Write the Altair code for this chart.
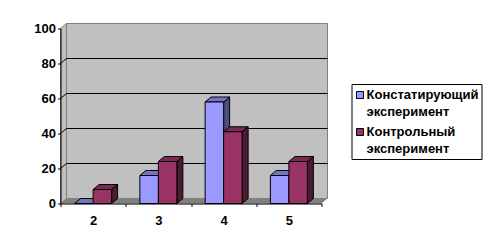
import altair as alt
import pandas as pd

# ---- data ----
categories = [2, 3, 4, 5]
series_names = ["Констатирующий эксперимент", "Контрольный эксперимент"]
konst = [0, 16, 58, 16]
kontr = [8, 24, 41, 24]
y_ticks = [0, 20, 40, 60, 80, 100]
grid_values = [20, 40, 60, 80]

# ---- geometry (in data units) ----
W, H = 261, 175
X0, X1 = 1.5, 5.5
YMAX = 100
DX = 6 / (W / (X1 - X0))      # 3-D depth, horizontal
DY = 5 / (H / YMAX)           # 3-D depth, vertical
HALF = 0.2835                 # bar width

front_colors = ["#9999FF", "#993366"]
top_colors = ["#7474C4", "#7A2952"]
side_colors = ["#4D4D80", "#4D1A33"]

fronts, tops, sides = [], [], []
for si, (name, vals) in enumerate(zip(series_names, [konst, kontr])):
    for c, v in zip(categories, vals):
        a = c - HALF if si == 0 else c
        b = c if si == 0 else c + HALF
        bid = f"{si}-{c}"
        fronts.append(dict(series=name, x=a, x2=b, y=0, y2=v))
        for px, lo, hi in [(a, v, v), (a + DX, v, v + DY), (b, v, v + DY), (b + DX, v + DY, v + DY)]:
            tops.append(dict(id=bid, x=px, y=lo, y2=hi, fill=top_colors[si]))
        for px, lo, hi in [(b, 0, v), (b + DX, DY, v + DY)]:
            sides.append(dict(id=bid, x=px, y=lo, y2=hi, fill=side_colors[si]))

fronts = pd.DataFrame(fronts)
tops = pd.DataFrame(tops)
sides = pd.DataFrame(sides)

xs = alt.Scale(domain=[X0, X1], nice=False, zero=False)
ys = alt.Scale(domain=[0, YMAX], nice=False, zero=True)

x_axis = alt.Axis(
    values=[1.5, 2.5, 3.5, 4.5, 5.5],
    labelExpr="datum.value < 5 ? '' + (datum.value + 0.5) : ''",
    labelOffset=W / (X1 - X0) / 2, labelFlush=False,
    tickSize=3, tickColor="black", domainColor="black", grid=False,
    labelFontSize=13, labelFontWeight="bold", labelColor="black", labelPadding=8, zindex=1,
)
y_axis = alt.Axis(
    values=y_ticks, tickSize=3, tickColor="black", domainColor="black", grid=False,
    labelFontSize=13, labelFontWeight="bold", labelColor="black", labelPadding=2, zindex=1,
)


def X(field="x"):
    return alt.X(f"{field}:Q", scale=xs, axis=x_axis, title=None)


def Y(field="y"):
    return alt.Y(f"{field}:Q", scale=ys, axis=y_axis, title=None)


# walls
back = alt.Chart(pd.DataFrame([dict(x=X0 + DX, x2=X1 + DX, y=DY, y2=YMAX + DY)])).mark_rect(
    fill="#C0C0C0", stroke="#808080", strokeWidth=1
).encode(x=X(), x2="x2:Q", y=Y(), y2="y2:Q")

left_wall = alt.Chart(pd.DataFrame([dict(x=X0, y=0, y2=YMAX), dict(x=X0 + DX, y=DY, y2=YMAX + DY)])).mark_area(
    fill="#C0C0C0", stroke="#808080", strokeWidth=1, orient="vertical"
).encode(x=X(), y=Y(), y2="y2:Q")

floor = alt.Chart(pd.DataFrame([
    dict(x=X0, y=0, y2=0), dict(x=X0 + DX, y=0, y2=DY),
    dict(x=X1, y=0, y2=DY), dict(x=X1 + DX, y=DY, y2=DY)])).mark_area(
    fill="#808080", orient="vertical"
).encode(x=X(), y=Y(), y2="y2:Q")

gdf = pd.DataFrame(dict(v=grid_values))
grid_back = alt.Chart(gdf).transform_calculate(
    xa=str(X0 + DX), xb=str(X1 + DX), yy=f"datum.v + {DY}"
).mark_rule(color="black", strokeWidth=1).encode(x=X("xa"), x2="xb:Q", y=Y("yy"))
grid_side = alt.Chart(gdf).transform_calculate(
    xa=str(X0), xb=str(X0 + DX), yy=f"datum.v + {DY}"
).mark_rule(color="black", strokeWidth=1).encode(x=X("xa"), x2="xb:Q", y=Y("v"), y2="yy:Q")

side_layer = alt.Chart(sides).mark_area(stroke="black", strokeWidth=1, orient="vertical").encode(
    x=X(), y=Y(), y2="y2:Q", detail="id:N", fill=alt.Fill("fill:N", scale=None)
)
top_layer = alt.Chart(tops).mark_area(stroke="black", strokeWidth=1, orient="vertical").encode(
    x=X(), y=Y(), y2="y2:Q", detail="id:N", fill=alt.Fill("fill:N", scale=None)
)

front_layer = alt.Chart(fronts).mark_rect(stroke="black", strokeWidth=1).encode(
    x=X("x"), x2="x2:Q", y=Y("y"), y2="y2:Q",
    color=alt.Color(
        "series:N",
        scale=alt.Scale(domain=series_names, range=front_colors),
        legend=alt.Legend(
            title=" ", titleFontSize=1, titlePadding=4,
            orient="none", legendX=291, legendY=55.5,
            labelExpr="split(datum.label, ' ')",
            labelFontSize=13, labelFontWeight="bold", labelColor="black",
            labelBaseline="alphabetic",
            labelLimit=0, labelOffset=0, symbolOffset=-1,
            symbolType="M-1,-2H1V0H-1Z", symbolSize=49,
            symbolStrokeColor="black", symbolStrokeWidth=1,
            strokeColor="black", fillColor="white", padding=3, rowPadding=6,
        ),
    ),
)

chart = alt.layer(
    back, left_wall, floor, grid_back, grid_side, side_layer, top_layer, front_layer
).properties(
    width=W, height=H,
    autosize=alt.AutoSizeParams(type="none"),
    padding={"left": 60.5, "top": 28.5, "right": 175.5, "bottom": 44.5},
    background="white",
).configure_view(stroke=None).configure(
    font="Liberation Sans", style={"guide-label": {"lineHeight": 17}}
)

chart.save("out.html", embed_options={"renderer": "svg", "actions": False})
